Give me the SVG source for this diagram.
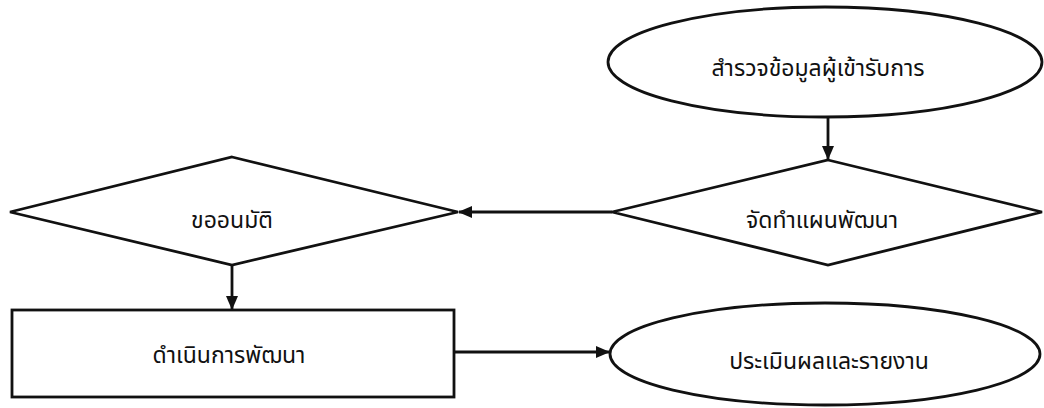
<svg xmlns="http://www.w3.org/2000/svg" width="1044" height="408" viewBox="0 0 1044 408">
<defs>
<style>
.shape{fill:none;stroke:#111;stroke-width:2.8}
.conn{fill:none;stroke:#111;stroke-width:2.8}
.lbl{font-family:"Noto Sans Thai","Tahoma","Noto Sans","DejaVu Sans",sans-serif;font-size:23px;fill:#111;text-anchor:middle}
</style>
<marker id="arr" markerWidth="14" markerHeight="12" refX="13" refY="6" orient="auto" markerUnits="userSpaceOnUse">
<path d="M0,0 L14,6 L0,12 Z" fill="#111"/>
</marker>
</defs>
<rect width="1044" height="408" fill="#ffffff"/>
<g id="node-survey">
<ellipse class="shape" cx="825" cy="62" rx="217" ry="55"/>
<text class="lbl" x="818" y="76">สำรวจข้อมูลผู้เข้ารับการ</text>
</g>
<g id="node-plan">
<polygon class="shape" points="828,160 1042,212 828,265 612,212"/>
<text class="lbl" x="822" y="228">จัดทำแผนพัฒนา</text>
</g>
<g id="node-approve">
<polygon class="shape" points="232,157 458,212 232,265 10,212"/>
<text class="lbl" x="232" y="228">ขออนมัติ</text>
</g>
<g id="node-develop">
<rect class="shape" x="12" y="310" width="442" height="87"/>
<text class="lbl" x="229" y="363">ดำเนินการพัฒนา</text>
</g>
<g id="node-evaluate">
<ellipse class="shape" cx="825" cy="354" rx="215" ry="51"/>
<text class="lbl" x="829" y="369">ประเมินผลและรายงาน</text>
</g>
<g id="connectors">
<line class="conn" x1="828" y1="117" x2="828" y2="159" marker-end="url(#arr)"/>
<line class="conn" x1="612" y1="212" x2="459" y2="212" marker-end="url(#arr)"/>
<line class="conn" x1="232" y1="265" x2="232" y2="309" marker-end="url(#arr)"/>
<line class="conn" x1="454" y1="352" x2="609" y2="352" marker-end="url(#arr)"/>
</g>
</svg>
